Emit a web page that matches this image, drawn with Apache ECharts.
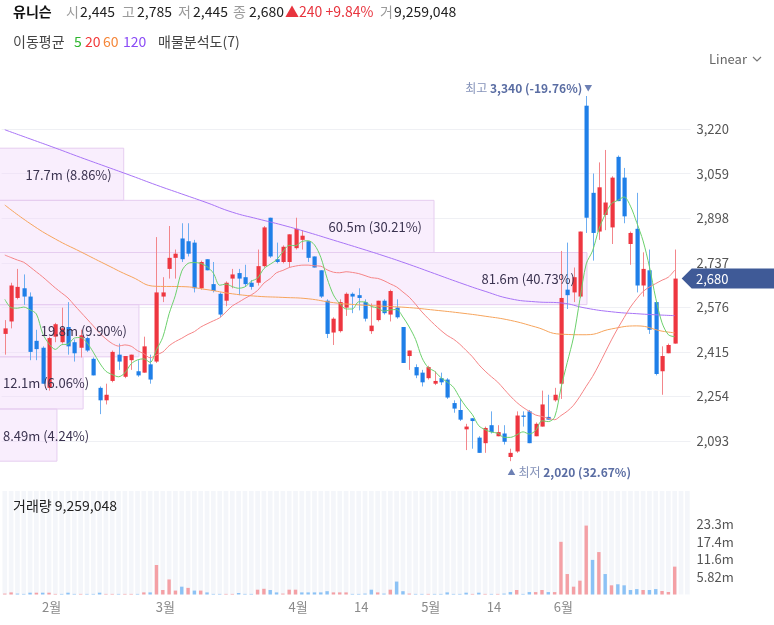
<!DOCTYPE html>
<html><head><meta charset="utf-8">
<script src="https://cdn.jsdelivr.net/npm/echarts@6/dist/echarts.min.js"></script>
<style>html,body{margin:0;padding:0;background:#fff;}#chart{width:774px;height:625px;}</style>
</head><body><div id="chart"></div>
<script>
const FONT = '"Noto Sans CJK KR", "Noto Sans", sans-serif';

// ---- candle data ----
const opens = [
2480,2525,2610,2645,2615,2455,2430,2285,2470,2450,
2505,2450,2430,2465,2390,2285,2240,2310,2405,2325,
2385,2345,2340,2370,2380,2615,2715,2755,2825,2815,
2810,2645,2750,2660,2625,2600,2680,2700,2685,2665,
2665,2725,2900,2750,2740,2740,2790,2820,2815,2760,
2710,2600,2485,2490,2575,2625,2620,2595,2490,2530,
2600,2550,2575,2505,2400,2360,2340,2320,2300,2320,
2315,2230,2205,2135,2175,2105,2085,2150,2110,2120,
2035,2055,2185,2200,2110,2145,2180,2240,2300,2640,
2630,2615,3305,2990,2850,2910,2865,3120,3045,2805,
2860,2655,2710,2595,2345,2410,2445];
const closes = [
2500,2655,2650,2615,2415,2425,2300,2465,2515,2500,
2435,2410,2475,2420,2330,2240,2260,2415,2380,2400,
2405,2330,2435,2315,2630,2630,2755,2770,2750,2770,
2645,2740,2710,2635,2550,2665,2695,2680,2660,2650,
2725,2865,2760,2740,2795,2840,2860,2835,2755,2720,
2615,2480,2535,2595,2625,2615,2610,2535,2510,2600,
2555,2635,2540,2375,2420,2330,2305,2360,2310,2305,
2250,2210,2170,2145,2165,2050,2140,2125,2125,2090,
2050,2185,2180,2085,2155,2225,2170,2260,2610,2620,
2685,2850,2900,2845,3010,2955,3045,2960,2905,2845,
2655,2715,2495,2335,2400,2440,2680];
const lows = [
2405,2500,2605,2585,2385,2385,2300,2275,2450,2445,
2405,2380,2395,2415,2330,2190,2225,2305,2350,2320,
2350,2325,2340,2300,2375,2595,2680,2680,2740,2760,
2630,2640,2710,2630,2540,2580,2645,2620,2650,2640,
2655,2720,2755,2735,2735,2720,2785,2785,2740,2720,
2610,2465,2440,2485,2545,2555,2565,2525,2480,2525,
2550,2525,2535,2375,2350,2320,2290,2315,2295,2295,
2245,2195,2165,2060,2065,2050,2050,2120,2110,2080,
2020,2050,2145,2085,2110,2145,2170,2235,2245,2570,
2595,2610,2845,2745,2820,2855,2805,2960,2880,2730,
2630,2615,2480,2330,2260,2410,2445];
const highs = [
2530,2665,2715,2695,2630,2495,2435,2470,2520,2575,
2595,2460,2495,2470,2395,2290,2300,2420,2445,2400,
2405,2385,2470,2405,2830,2685,2870,2785,2880,2880,
2820,2745,2750,2740,2630,2670,2715,2715,2730,2675,
2785,2870,2900,2810,2800,2840,2900,2855,2815,2760,
2710,2605,2540,2605,2630,2630,2645,2605,2590,2600,
2605,2640,2605,2505,2420,2370,2350,2365,2345,2340,
2320,2240,2245,2155,2175,2110,2145,2200,2150,2150,
2065,2200,2200,2205,2160,2275,2260,2285,2780,2810,
2720,2850,3340,3060,3100,3145,3050,3125,3080,2850,
2990,2775,2785,2595,2435,2445,2785];
// volume in millions of shares
const volumesM = [
0.3,0.7,0.3,0.2,0.6,0.6,0.6,0.6,0.2,0.2,
0.6,0.2,0.2,0.2,0.2,0.6,0.2,0.2,0.2,0.2,
0.2,0.2,0.7,0.7,9.8,1.5,5.0,1.3,2.6,2.2,
1.3,1.3,0.7,0.2,0.2,0.2,0.2,0.5,0.2,0.2,
1.6,1.9,1.5,0.7,0.3,1.6,1.6,0.7,0.7,0.7,
0.7,1.1,0.7,0.7,0.7,0.2,0.2,0.3,1.6,0.7,
0.3,1.6,4.3,1.1,0.3,0.2,0.2,0.2,0.2,0.2,
0.7,0.2,0.2,0.6,0.2,0.6,0.2,0.2,0.2,0.3,
0.8,1.5,0.2,0.8,0.8,1.5,0.8,0.8,17.5,6.8,
2.6,4.6,22.9,11.5,14.1,6.8,3.05,3.4,3.05,1.5,
1.8,1.5,1.5,1.8,1.16,0.83,9.259048];

// moving-average values read where earlier history is off-screen
const ma5Head = [2605,2575,2573,2577];
const ma20Head = [2765,2756,2747,2739,2722,2704,2686,2666,2646,2628,2610,2584,2559,2534,2509,2483,2462,2445,2436];
const ma60Points = [[0,2946],[4,2879],[8,2823],[12,2777],[16,2731],[20,2687],[24,2652],[28,2651],[32,2640],[36,2625],[40,2616],[44,2612],[48,2607],[52,2593],[56,2585],[60,2580],[64,2575],[68,2566],[72,2556],[76,2544],[80,2529],[84,2505],[88,2479],[92,2477],[96,2498],[100,2509],[104,2490],[106,2484]];
const ma120Points = [[0,3218],[4,3185],[8,3152],[12,3118],[16,3085],[20,3052],[24,3018],[28,2986],[32,2954],[36,2920],[40,2896],[44,2873],[48,2847],[52,2819],[56,2791],[60,2762],[64,2731],[68,2698],[72,2665],[76,2634],[80,2607],[84,2596],[88,2592],[92,2573],[96,2560],[100,2553],[104,2548],[106,2546]];

// volume profile (매물분석도, 7 bands, bottom -> top), millions and percent
const profileVolumesM = [8.49,12.1,19.8,81.6,60.5,17.7,0];
const profilePercents = [4.24,6.06,9.90,40.73,30.21,8.86,0];

// axis ticks / labels
const tickLabels = {7:'2월',25:'3월',46:'4월',56:'14',67:'5월',77:'14',88:'6월'};
const priceTicks = [2093,2254,2415,2576,2737,2898,3059,3220];
const volumeTicksM = [5.816,11.632,17.448,23.264];

// ---- derived ----
const N = closes.length, PAD = 2;
const categories = Array.from({length: N + PAD}, (_, i) => 'd' + i);
function movingAvg(period, head) {
  const out = [];
  for (let i = 0; i < N; i++) {
    if (i < period - 1) { out.push([i, head[i]]); continue; }
    let s = 0; for (let k = i - period + 1; k <= i; k++) s += closes[k];
    out.push([i, s / period]);
  }
  return out;
}
const candleData = closes.map((c, i) => [i, opens[i], c, lows[i], highs[i]]);
const UP_BODY = '#ee3640', UP_WICK = '#f3868b', DN_BODY = '#1f7fe8', DN_WICK = '#6eaef1';
const volData = volumesM.map((v, i) => {
  const prev = i > 0 ? closes[i - 1] : opens[0];
  return {value: v, itemStyle: {color: closes[i] >= prev ? '#f4a0a5' : '#8cc2f5'}};
});
const pLow = Math.min(...lows), pHigh = Math.max(...highs);
const bandH = (pHigh - pLow) / profileVolumesM.length;
const profileData = profileVolumesM.map((v, k) => [v, pLow + k * bandH, pLow + (k + 1) * bandH, profilePercents[k]]);
const stripeData = categories.map((_, i) => [i]);
const VOL_MAX = 34.39;

const measureCtx = document.createElement('canvas').getContext('2d');
measureCtx.font = '13px ' + FONT;

const GRID_LEFT = 1.64, GRID_RIGHT = 83.5;

const option = {
  animation: false,
  textStyle: {fontFamily: FONT},
  grid: [
    {left: GRID_LEFT, right: GRID_RIGHT, top: 86, height: 399.5},
    {left: GRID_LEFT, right: GRID_RIGHT, top: 491, height: 103.5}
  ],
  xAxis: [
    {type: 'category', gridIndex: 0, data: categories, boundaryGap: true, show: false},
    {type: 'category', gridIndex: 1, data: categories, boundaryGap: true,
     axisLine: {show: false}, axisTick: {show: false}, splitLine: {show: false},
     axisLabel: {interval: (idx) => tickLabels[idx] !== undefined, formatter: (v, idx) => tickLabels[idx] || '',
                 color: '#8a8a8a', fontSize: 13, margin: 6, padding: [0, 0, 0, 5], fontFamily: FONT}},
    {type: 'value', gridIndex: 0, min: 0.861, max: 95.88, show: false}
  ],
  yAxis: [
    {type: 'value', gridIndex: 0, position: 'right', min: 1932, max: 3376.2, interval: 161, scale: true,
     axisLine: {show: false}, axisTick: {show: false},
     splitLine: {show: true, showMinLine: false, showMaxLine: false, lineStyle: {color: '#eff0f4', width: 1}},
     axisLabel: {showMinLabel: false, showMaxLabel: false, color: '#555', fontSize: 13, margin: 6, fontFamily: FONT,
                 formatter: (v) => priceTicks.includes(Math.round(v)) ? Math.round(v).toLocaleString('en-US') : ''}},
    {type: 'value', gridIndex: 1, position: 'right', min: 0, max: VOL_MAX, interval: 5.816,
     axisLine: {show: false}, axisTick: {show: false}, splitLine: {show: false},
     axisLabel: {showMinLabel: false, showMaxLabel: false, color: '#555', fontSize: 13, margin: 6, fontFamily: FONT,
                 formatter: (v) => volumeTicksM.some(t => Math.abs(t - v) < 1e-6) ? v.toPrecision(3) + 'm' : ''}}
  ],
  series: [
    { // volume profile boxes
      type: 'custom', xAxisIndex: 2, yAxisIndex: 0, z: 1, silent: true, clip: false,
      data: profileData, encode: {x: 0, y: [1, 2]},
      renderItem: (params, api) => {
        const v = api.value(0); if (!v) return;
        const a = api.coord([0, api.value(1)]), b = api.coord([v, api.value(2)]);
        return {type: 'rect', shape: {x: a[0], y: b[1], width: b[0] - a[0], height: a[1] - b[1]},
                style: {fill: 'rgba(240,214,250,0.42)', stroke: '#e6cdf0', lineWidth: 1}};
      }
    },
    { // candles
      type: 'custom', xAxisIndex: 0, yAxisIndex: 0, z: 3, silent: true,
      data: candleData, encode: {x: 0, y: [1, 2, 3, 4]},
      renderItem: (params, api) => {
        const i = api.value(0), o = api.value(1), c = api.value(2), l = api.value(3), h = api.value(4);
        const pO = api.coord([i, o]), pC = api.coord([i, c]), pH = api.coord([i, h]), pL = api.coord([i, l]);
        const up = c >= o;
        const r = Math.round(pO[0]);
        const top = Math.min(pO[1], pC[1]), hgt = Math.max(1, Math.abs(pO[1] - pC[1]));
        return {type: 'group', children: [
          {type: 'line', shape: {x1: r + 0.5, y1: pH[1], x2: r + 0.5, y2: pL[1]}, style: {stroke: up ? UP_WICK : DN_WICK, lineWidth: 1}},
          {type: 'rect', shape: {x: r - 1.5, y: top, width: 4.2, height: hgt}, style: {fill: up ? UP_BODY : DN_BODY}}
        ]};
      }
    },
    {type: 'line', name: 'MA120', xAxisIndex: 0, yAxisIndex: 0, z: 4, data: ma120Points, smooth: true, showSymbol: false, silent: true, lineStyle: {color: '#a874f6', width: 1}},
    {type: 'line', name: 'MA60', xAxisIndex: 0, yAxisIndex: 0, z: 4, data: ma60Points, smooth: true, showSymbol: false, silent: true, lineStyle: {color: '#f6a45c', width: 1}},
    {type: 'line', name: 'MA20', xAxisIndex: 0, yAxisIndex: 0, z: 4, data: movingAvg(20, ma20Head), smooth: 0.3, showSymbol: false, silent: true, lineStyle: {color: '#f58486', width: 1}},
    {type: 'line', name: 'MA5', xAxisIndex: 0, yAxisIndex: 0, z: 4, data: movingAvg(5, ma5Head), smooth: 0.3, showSymbol: false, silent: true, lineStyle: {color: '#6cd06c', width: 1}},
    { // profile labels
      type: 'custom', xAxisIndex: 2, yAxisIndex: 0, z: 6, silent: true, clip: false,
      data: profileData, encode: {x: 0, y: [1, 2]},
      renderItem: (params, api) => {
        const v = api.value(0); if (!v) return;
        const a = api.coord([0, api.value(1)]), b = api.coord([v, api.value(2)]);
        const label = v.toPrecision(3) + 'm (' + api.value(3).toFixed(2) + '%)';
        const tw = measureCtx.measureText(label).width;
        let x = b[0] - 12 - tw; if (x < 3) x = 3;
        return {type: 'text', style: {x: x, y: (a[1] + b[1]) / 2 + 0.5, text: label, fill: '#3b3350',
                font: '13px ' + FONT, align: 'left', verticalAlign: 'middle', textAlign: 'left', textVerticalAlign: 'middle'}};
      }
    },
    { // volume background stripes
      type: 'custom', xAxisIndex: 1, yAxisIndex: 1, z: 1, silent: true,
      data: stripeData, encode: {x: 0},
      renderItem: (params, api) => {
        const i = api.value(0);
        const p0 = api.coord([i, 0]), p1 = api.coord([i, VOL_MAX]);
        const w = api.size([1, 0])[0] * 0.74;
        return {type: 'rect', shape: {x: p0[0] - w / 2, y: p1[1], width: w, height: p0[1] - p1[1]}, style: {fill: '#f4f6fa'}};
      }
    },
    {type: 'bar', xAxisIndex: 1, yAxisIndex: 1, z: 3, data: volData, barWidth: 3.4, silent: true}
  ]
};

const chart = echarts.init(document.getElementById('chart'), null, {renderer: 'canvas'});
chart.setOption(option);

// ---- text overlays positioned through the chart's scales ----
const last = N - 1;
const fmt = (v) => Math.round(v).toLocaleString('en-US');
const chg = closes[last] - closes[last - 1];
const chgPct = chg / closes[last - 1] * 100;
const lastVol = Math.round(volumesM[last] * 1e6);
const hiIdx = highs.indexOf(pHigh), loIdx = lows.indexOf(pLow);
const hiX = chart.convertToPixel({xAxisIndex: 0}, categories[hiIdx]);
const hiY = chart.convertToPixel({yAxisIndex: 0}, pHigh);
const loX = chart.convertToPixel({xAxisIndex: 0}, categories[loIdx]);
const loY = chart.convertToPixel({yAxisIndex: 0}, pLow);
const lastY = chart.convertToPixel({yAxisIndex: 0}, closes[last]);
const hiPct = (closes[last] / pHigh - 1) * 100;
const loPct = (closes[last] / pLow - 1) * 100;

function txt(x, y, text, color, size, extra) {
  return Object.assign({type: 'text', x: x, y: y, z: 100, silent: true,
    style: Object.assign({text: text, fill: color, font: (size || 14) + 'px ' + FONT,
      verticalAlign: 'middle', textVerticalAlign: 'middle'}, extra || {})});
}
const g = [];
// header row 1
g.push(txt(13, 12, '유니슨', '#111', 14, {font: 'bold 14px ' + FONT}));
g.push(txt(66, 12, '시', '#9a9a9a'));
g.push(txt(80, 12, fmt(opens[last]), '#222'));
g.push(txt(122, 12, '고', '#9a9a9a'));
g.push(txt(137, 12, fmt(highs[last]), '#222'));
g.push(txt(178, 12, '저', '#9a9a9a'));
g.push(txt(193, 12, fmt(lows[last]), '#222'));
g.push(txt(233, 12, '종', '#9a9a9a'));
g.push(txt(249, 12, fmt(closes[last]), '#222'));
g.push(txt(285, 12, '▲' + fmt(chg) + ' +' + chgPct.toFixed(2) + '%', '#e8343e'));
g.push(txt(380, 12, '거', '#9a9a9a'));
g.push(txt(394, 12, fmt(lastVol), '#222'));
// header row 2
g.push(txt(13, 42, '이동평균', '#444'));
g.push(txt(74, 42, '5', '#2db52d'));
g.push(txt(85, 42, '20', '#f23a3a'));
g.push(txt(103, 42, '60', '#f5873a'));
g.push(txt(123, 42, '120', '#8b4cf6'));
g.push(txt(158, 42, '매물분석도(7)', '#444'));
// Linear selector
g.push(txt(709, 59, 'Linear', '#666', 13));
g.push({type: 'polyline', z: 100, silent: true, shape: {points: [[753, 57], [757, 61], [761, 57]]}, style: {stroke: '#777', lineWidth: 1.2, fill: null}});
// volume pane title
g.push(txt(13, 506, '거래량 ' + fmt(lastVol), '#222', 14));
// highest / lowest markers
g.push(txt(hiX - 4, hiY - 8, '{a|최고} {b|' + fmt(pHigh) + ' (' + hiPct.toFixed(2) + '%)}', '#5c6fa3', 12,
  {align: 'right', textAlign: 'right', rich: {a: {fill: '#8492b9', fontSize: 12, fontFamily: FONT}, b: {fill: '#5a6da3', fontSize: 12, fontWeight: 'bold', fontFamily: FONT}}}));
g.push(txt(hiX + 2, hiY - 8, '▼', '#6d80b4', 8, {align: 'center', textAlign: 'center'}));
g.push(txt(loX + 1, loY + 11, '▲', '#6d80b4', 8, {align: 'center', textAlign: 'center'}));
g.push(txt(loX + 8, loY + 11, '{a|최저} {b|' + fmt(pLow) + ' (' + loPct.toFixed(2) + '%)}', '#5c6fa3', 12,
  {align: 'left', textAlign: 'left', rich: {a: {fill: '#8492b9', fontSize: 12, fontFamily: FONT}, b: {fill: '#5a6da3', fontSize: 12, fontWeight: 'bold', fontFamily: FONT}}}));
// last price tag
g.push({type: 'polygon', z: 99, silent: true,
  shape: {points: [[681.7, lastY], [691.7, lastY - 10], [774, lastY - 10], [774, lastY + 10], [691.7, lastY + 10]]},
  style: {fill: '#3f5a97'}});
g.push(txt(696, lastY, fmt(closes[last]), '#fff', 13));

chart.setOption({graphic: g});
</script>
</body></html>
